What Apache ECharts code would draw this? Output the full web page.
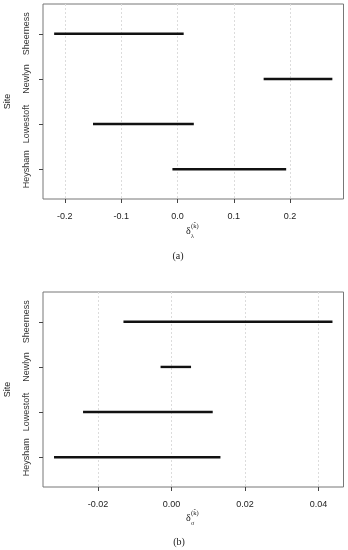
<!DOCTYPE html>
<html><head><meta charset="utf-8">
<script src="https://cdn.jsdelivr.net/npm/echarts@6/dist/echarts.min.js"></script>
<style>html,body{margin:0;padding:0;background:#fff}#c{width:348px;height:550px}</style>
</head><body><div id="c"></div>
<script>
// Sites, bottom to top
const sites = ['Heysham', 'Lowestoft', 'Newlyn', 'Sheerness'];
// Panel (a) interval bounds
const lowA  = [-0.009, -0.150, 0.153, -0.219];
const highA = [ 0.193,  0.029, 0.275,  0.011];
// Panel (b) interval bounds
const lowB  = [-0.0320, -0.0241, -0.0030, -0.0131];
const highB = [ 0.0133,  0.0112,  0.0053,  0.0438];
// Tick values / labels
const ticksA = [-0.2, -0.1, 0.0, 0.1, 0.2];
const tickLabelsA = ['-0.2', '-0.1', '0.0', '0.1', '0.2'];
const ticksB = [-0.02, 0.00, 0.02, 0.04];
const tickLabelsB = ['-0.02', '0.00', '0.02', '0.04'];
const sitePos = [1, 2, 3, 4];

const FONT = 'Liberation Sans';
const chart = echarts.init(document.getElementById('c'), null, {renderer: 'canvas'});

function fmt(ticks, labels) {
  return v => {
    for (let i = 0; i < ticks.length; i++) if (Math.abs(v - ticks[i]) < 1e-9) return labels[i];
    return '';
  };
}
function xAx(idx, ticks, labels, min, max) {
  return {
    type: 'value', gridIndex: idx, min: min, max: max,
    axisLine: {show: false, onZero: false},
    axisTick: {show: true, length: 4, customValues: ticks, lineStyle: {color: '#444', width: 1}},
    axisLabel: {customValues: ticks, formatter: fmt(ticks, labels), fontFamily: FONT, fontSize: 9, color: '#222', margin: 13},
    splitLine: {show: true, lineStyle: {color: '#dcdcdc', type: [2, 2], width: 1}}
  };
}
function yAx(idx) {
  return {
    type: 'value', gridIndex: idx, min: 0.34, max: 4.66,
    axisLine: {show: false, onZero: false},
    axisTick: {show: true, length: 4, customValues: sitePos, lineStyle: {color: '#444', width: 1}},
    axisLabel: {customValues: sitePos, rotate: 90, formatter: v => sites[Math.round(v) - 1] || '',
      fontFamily: FONT, fontSize: 9, color: '#333', margin: 12, align: 'center', verticalAlign: 'bottom'},
    splitLine: {show: false},
    name: 'Site', nameLocation: 'middle', nameRotate: 90, nameGap: 31,
    nameTextStyle: {fontFamily: FONT, fontSize: 9, color: '#222'}
  };
}
function seg(idx, lows, highs) {
  return {
    type: 'custom', xAxisIndex: idx, yAxisIndex: idx,
    data: sites.map((s, i) => [lows[i], highs[i], sitePos[i]]),
    encode: {x: [0, 1], y: 2},
    renderItem: (params, api) => {
      const p1 = api.coord([api.value(0), api.value(2)]);
      const p2 = api.coord([api.value(1), api.value(2)]);
      return {type: 'line', shape: {x1: p1[0], y1: p1[1], x2: p2[0], y2: p2[1]},
        style: {stroke: '#111', lineWidth: 2.4}};
    },
    silent: true
  };
}
function axisTitle(cx, cy, sub) {
  return {
    type: 'group', x: cx, y: cy,
    children: [
      {type: 'text', x: -6, y: 0, style: {text: 'δ', font: '10px "Liberation Serif"', fill: '#222', textVerticalAlign: 'middle'}},
      {type: 'text', x: -1, y: 5, style: {text: sub, font: '6px "Liberation Serif"', fill: '#222', textVerticalAlign: 'middle'}},
      {type: 'text', x: -1, y: -5, style: {text: '(k̂)', font: '6.5px "Liberation Serif"', fill: '#222', textVerticalAlign: 'middle'}}
    ]
  };
}
const option = {
  animation: false,
  grid: [
    {left: 43, right: 4.5, top: 4, height: 195, outerBoundsMode: 'none', show: true, borderColor: '#777', borderWidth: 1, backgroundColor: 'transparent'},
    {left: 43, right: 4.5, top: 292, height: 195, outerBoundsMode: 'none', show: true, borderColor: '#777', borderWidth: 1, backgroundColor: 'transparent'}
  ],
  xAxis: [xAx(0, ticksA, tickLabelsA, -0.2388, 0.2948), xAx(1, ticksB, tickLabelsB, -0.0350, 0.0468)],
  yAxis: [yAx(0), yAx(1)],
  series: [seg(0, lowA, highA), seg(1, lowB, highB)],
  graphic: [
    axisTitle(192, 231, 'λ'),
    axisTitle(192, 518, 'σ'),
    {type: 'text', x: 178, y: 256, style: {text: '(a)', font: '10px "Liberation Serif"', fill: '#222', textAlign: 'center', textVerticalAlign: 'middle'}},
    {type: 'text', x: 179, y: 542, style: {text: '(b)', font: '10px "Liberation Serif"', fill: '#222', textAlign: 'center', textVerticalAlign: 'middle'}}
  ]
};
chart.setOption(option);
</script></body></html>
